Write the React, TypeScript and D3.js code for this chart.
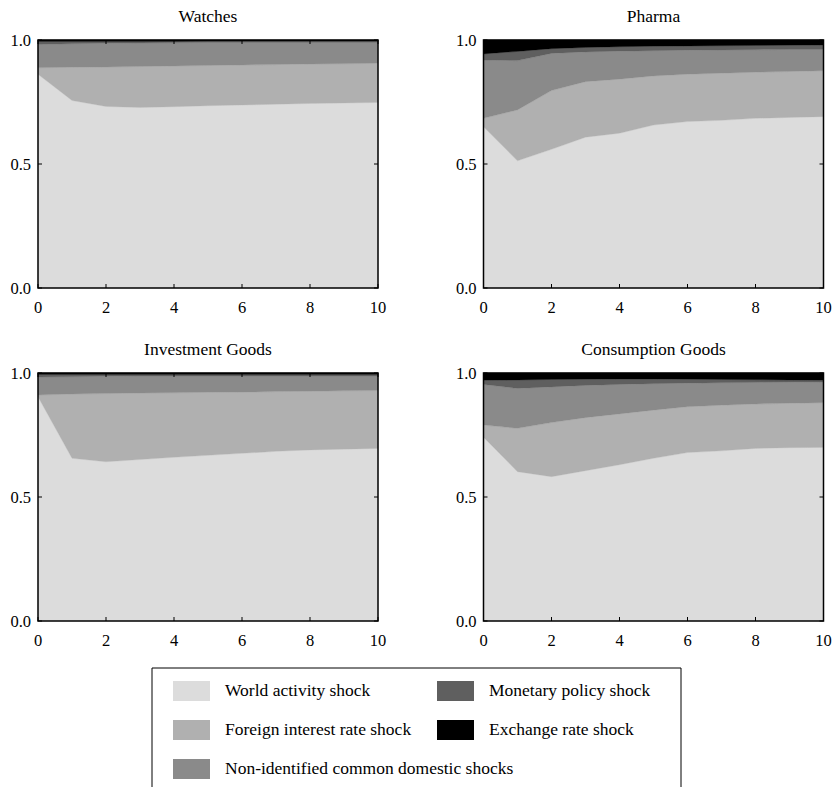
import React from "react";
import * as d3 from "d3";

const horizons = [0, 1, 2, 3, 4, 5, 6, 7, 8, 9, 10];
const xTicks = [0, 2, 4, 6, 8, 10];
const yTicks = [0, 0.5, 1];
const yTickLabels = ["0.0", "0.5", "1.0"];

const shockNames = [
  "World activity shock",
  "Foreign interest rate shock",
  "Non-identified common domestic shocks",
  "Monetary policy shock",
  "Exchange rate shock",
];
const shockColors = ["#dcdcdc", "#b0b0b0", "#8a8a8a", "#5f5f5f", "#000000"];

const panelTitles = ["Watches", "Pharma", "Investment Goods", "Consumption Goods"];

// Watches
const watchesWorld = [0.862, 0.756, 0.732, 0.728, 0.731, 0.735, 0.738, 0.741, 0.744, 0.746, 0.748];
const watchesForeign = [0.026, 0.134, 0.159, 0.165, 0.164, 0.162, 0.161, 0.16, 0.159, 0.158, 0.158];
const watchesNonId = [0.094, 0.095, 0.096, 0.095, 0.094, 0.093, 0.091, 0.089, 0.087, 0.086, 0.084];
const watchesMonetary = [0.012, 0.009, 0.007, 0.006, 0.005, 0.005, 0.005, 0.005, 0.005, 0.005, 0.005];
const watchesExchange = [0.006, 0.006, 0.006, 0.006, 0.006, 0.005, 0.005, 0.005, 0.005, 0.005, 0.005];

// Pharma
const pharmaWorld = [0.65, 0.513, 0.559, 0.608, 0.624, 0.657, 0.671, 0.676, 0.684, 0.688, 0.691];
const pharmaForeign = [0.034, 0.205, 0.237, 0.224, 0.218, 0.198, 0.191, 0.19, 0.186, 0.185, 0.185];
const pharmaNonId = [0.235, 0.199, 0.15, 0.12, 0.113, 0.102, 0.097, 0.094, 0.091, 0.089, 0.086];
const pharmaMonetary = [0.025, 0.037, 0.019, 0.018, 0.018, 0.018, 0.017, 0.017, 0.017, 0.017, 0.018];
const pharmaExchange = [0.056, 0.046, 0.035, 0.03, 0.027, 0.025, 0.024, 0.023, 0.022, 0.021, 0.02];

// Investment Goods
const investWorld = [0.904, 0.656, 0.642, 0.651, 0.66, 0.668, 0.676, 0.684, 0.69, 0.693, 0.696];
const investForeign = [0.007, 0.259, 0.275, 0.268, 0.26, 0.254, 0.247, 0.241, 0.236, 0.235, 0.233];
const investNonId = [0.073, 0.07, 0.07, 0.069, 0.068, 0.066, 0.065, 0.063, 0.062, 0.06, 0.059];
const investMonetary = [0.01, 0.009, 0.007, 0.006, 0.006, 0.006, 0.006, 0.006, 0.006, 0.006, 0.006];
const investExchange = [0.006, 0.006, 0.006, 0.006, 0.006, 0.006, 0.006, 0.006, 0.006, 0.006, 0.006];

// Consumption Goods
const consWorld = [0.741, 0.602, 0.582, 0.606, 0.63, 0.656, 0.679, 0.686, 0.696, 0.699, 0.7];
const consForeign = [0.049, 0.175, 0.218, 0.214, 0.205, 0.194, 0.185, 0.184, 0.179, 0.179, 0.18];
const consNonId = [0.164, 0.161, 0.144, 0.13, 0.119, 0.107, 0.095, 0.091, 0.087, 0.085, 0.084];
const consMonetary = [0.017, 0.034, 0.03, 0.025, 0.022, 0.019, 0.016, 0.013, 0.011, 0.009, 0.007];
const consExchange = [0.029, 0.028, 0.026, 0.025, 0.024, 0.024, 0.025, 0.026, 0.027, 0.028, 0.029];

const panelSeries = [
  [watchesWorld, watchesForeign, watchesNonId, watchesMonetary, watchesExchange],
  [pharmaWorld, pharmaForeign, pharmaNonId, pharmaMonetary, pharmaExchange],
  [investWorld, investForeign, investNonId, investMonetary, investExchange],
  [consWorld, consForeign, consNonId, consMonetary, consExchange],
];

const FONT = "'Liberation Serif', 'Times New Roman', serif";

const plotW = 340;
const plotH = 248;
const panelOrigins = [
  { x: 38, y: 40 },
  { x: 483.5, y: 40 },
  { x: 38, y: 373 },
  { x: 483.5, y: 373 },
];

function Panel({ idx }: { idx: number }) {
  const { x: ox, y: oy } = panelOrigins[idx];
  const series = panelSeries[idx];
  const xs = d3.scaleLinear().domain([0, 10]).range([0, plotW]);
  const ys = d3.scaleLinear().domain([0, 1]).range([plotH, 0]);
  const rows = horizons.map((h, i) => {
    const r: any = { h };
    series.forEach((s, k) => (r["k" + k] = s[i]));
    return r;
  });
  const keys = series.map((_, k) => "k" + k);
  const stacked = d3.stack<any>().keys(keys)(rows);
  const area = d3
    .area<any>()
    .x((d) => xs(d.data.h))
    .y0((d) => ys(d[0]))
    .y1((d) => ys(d[1]));
  const tl = 4;
  return (
    <g transform={`translate(${ox},${oy})`}>
      <text x={plotW / 2} y={-18} textAnchor="middle" fontSize={17.5} style={{ fontFamily: FONT }}>
        {panelTitles[idx]}
      </text>
      {stacked.map((s, k) => (
        <path key={k} d={area(s) || ""} fill={shockColors[k]} stroke={shockColors[k]} strokeWidth={0.3} />
      ))}
      {xTicks.map((t) => (
        <g key={"x" + t}>
          <line x1={xs(t)} x2={xs(t)} y1={plotH} y2={plotH - tl} stroke="#000" strokeWidth={1} />
          <line x1={xs(t)} x2={xs(t)} y1={0} y2={tl} stroke="#000" strokeWidth={1} />
          <text x={xs(t)} y={plotH + 25} textAnchor="middle" fontSize={16.5} style={{ fontFamily: FONT }}>
            {t}
          </text>
        </g>
      ))}
      {yTicks.map((t, i) => (
        <g key={"y" + t}>
          <line x1={0} x2={tl} y1={ys(t)} y2={ys(t)} stroke="#000" strokeWidth={1} />
          <line x1={plotW} x2={plotW - tl} y1={ys(t)} y2={ys(t)} stroke="#000" strokeWidth={1} />
          <text x={-7} y={ys(t) + 5.5} textAnchor="end" fontSize={16.5} style={{ fontFamily: FONT }}>
            {yTickLabels[i]}
          </text>
        </g>
      ))}
      <rect x={0} y={0} width={plotW} height={plotH} fill="none" stroke="#000" strokeWidth={1.5} />
    </g>
  );
}

function Legend() {
  const lx = 152;
  const ly = 668;
  const lw = 529;
  const items = [
    { k: 0, col: 0, row: 0 },
    { k: 1, col: 0, row: 1 },
    { k: 2, col: 0, row: 2 },
    { k: 3, col: 1, row: 0 },
    { k: 4, col: 1, row: 1 },
  ];
  const colX = [173, 437];
  return (
    <g>
      <path
        d={`M${lx},800 L${lx},${ly} L${lx + lw},${ly} L${lx + lw},800`}
        fill="none"
        stroke="#000"
        strokeWidth={1}
      />
      {items.map((it) => {
        const sy = 681 + it.row * 39;
        return (
          <g key={it.k}>
            <rect x={colX[it.col]} y={sy} width={37} height={20} fill={shockColors[it.k]} />
            <text x={colX[it.col] + 52} y={sy + 15} fontSize={17.5} style={{ fontFamily: FONT }}>
              {shockNames[it.k]}
            </text>
          </g>
        );
      })}
    </g>
  );
}

export default function App() {
  return (
    <svg
      width={832}
      height={787}
      style={{ position: "absolute", left: 0, top: 0, background: "#fff" }}
    >
      {[0, 1, 2, 3].map((i) => (
        <Panel key={i} idx={i} />
      ))}
      <Legend />
    </svg>
  );
}
